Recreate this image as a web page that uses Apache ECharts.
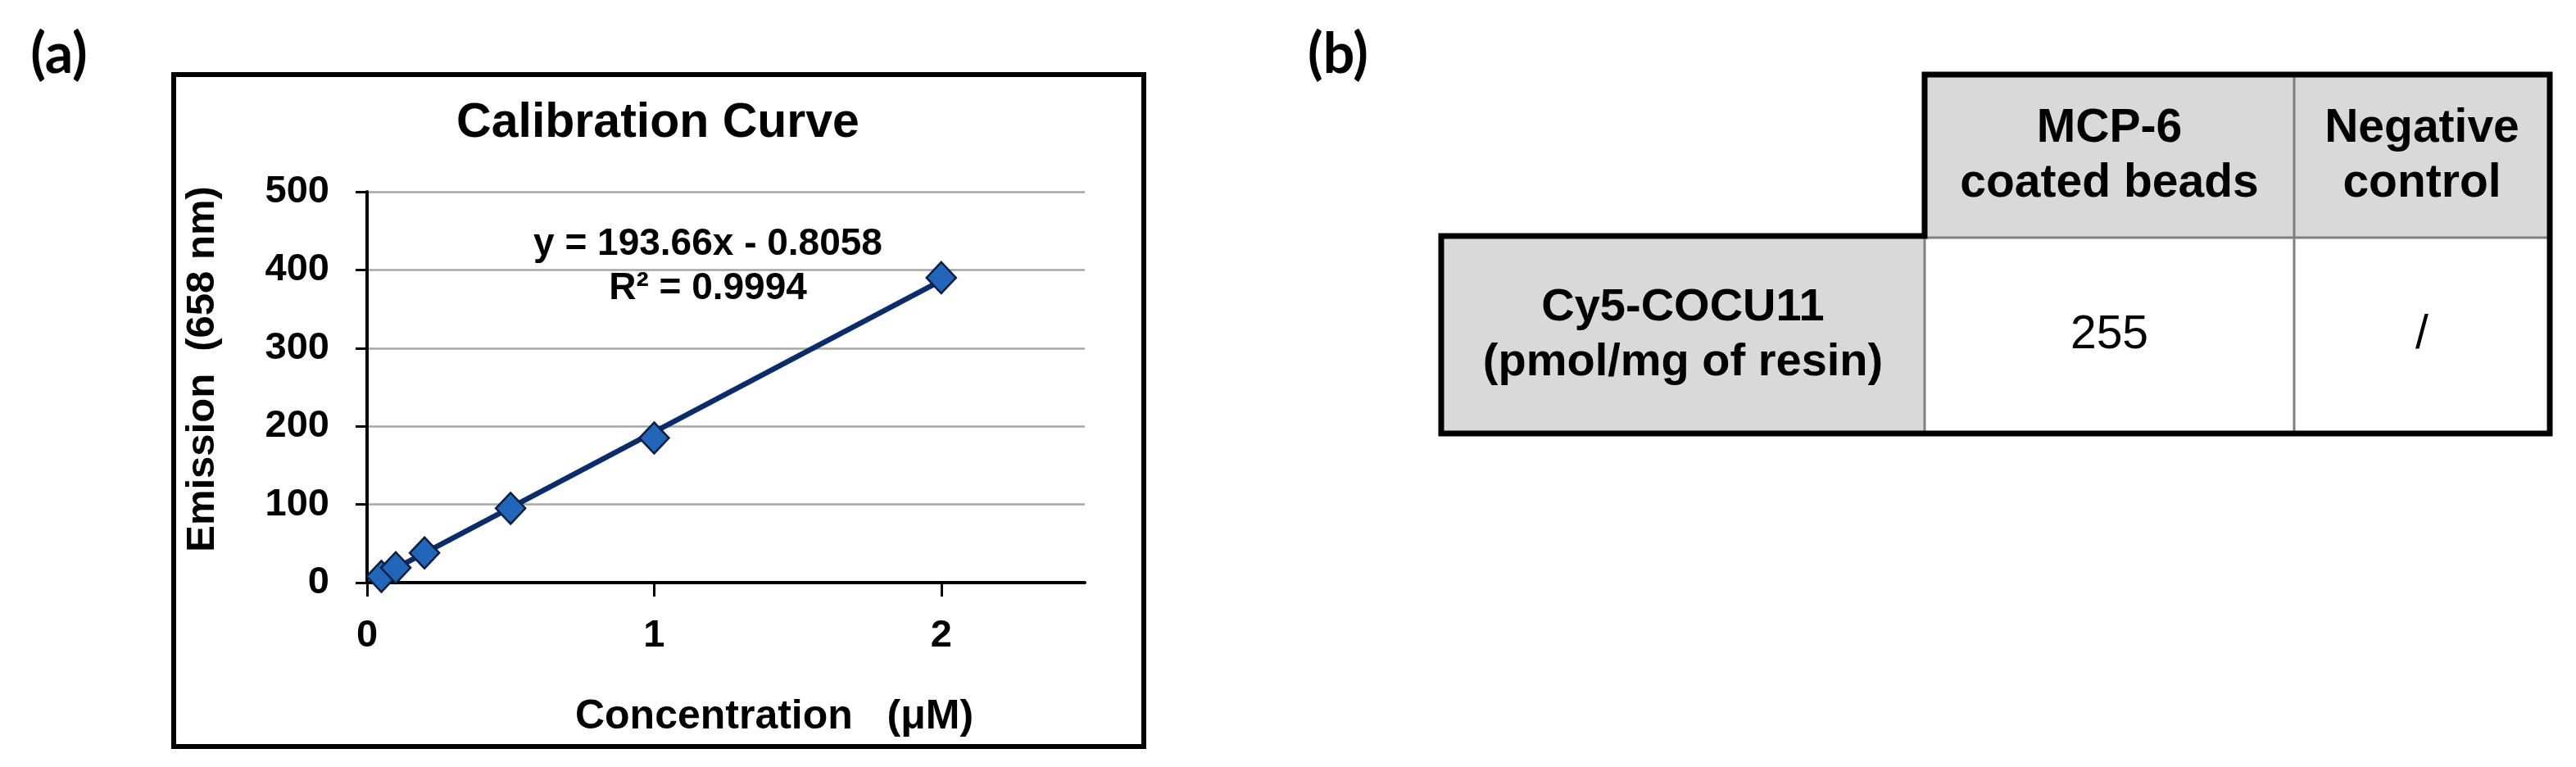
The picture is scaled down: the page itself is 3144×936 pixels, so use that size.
<!DOCTYPE html>
<html>
<head>
<meta charset="utf-8">
<script src="https://cdn.jsdelivr.net/npm/echarts@6/dist/echarts.min.js"></script>
<style>
  html, body { margin: 0; padding: 0; background: #fff; }
  #main { width: 3144px; height: 936px; }
</style>
</head>
<body>
<div id="main"></div>
<script>
// data
var concentration = [0.05, 0.1, 0.2, 0.5, 1, 2];
var emission = [8, 19, 38, 95, 185, 390];
var trendX = [0.05, 2];
var trendY = [8.9, 386.5];
var xTicks = [0, 1, 2];
var yTicks = [0, 100, 200, 300, 400, 500];
var equation = ['y = 193.66x - 0.8058', 'R² = 0.9994'];

// table (b)
var colHeaders = ['MCP-6\ncoated beads', 'Negative\ncontrol'];
var rowHeaders = ['Cy5-COCU11\n(pmol/mg of resin)'];
var cellValues = ['255', '/'];

var FONT = '"Liberation Sans", Arial, sans-serif';
var myChart = echarts.init(document.getElementById('main'));

// table geometry
var colX = [1759, 2349, 2800, 3112];
var rowY = [91, 290, 529];
var headFill = '#d9d9d9';
var tableEls = [];
tableEls.push({ type: 'rect', shape: { x: colX[1], y: rowY[0], width: colX[3] - colX[1], height: rowY[1] - rowY[0] }, style: { fill: headFill } });
tableEls.push({ type: 'rect', shape: { x: colX[0], y: rowY[1], width: colX[1] - colX[0], height: rowY[2] - rowY[1] }, style: { fill: headFill } });
// thin inner lines
tableEls.push({ type: 'line', shape: { x1: colX[1], y1: rowY[0], x2: colX[1], y2: rowY[2] }, style: { stroke: '#808080', lineWidth: 3 } });
tableEls.push({ type: 'line', shape: { x1: colX[2], y1: rowY[0], x2: colX[2], y2: rowY[2] }, style: { stroke: '#808080', lineWidth: 3 } });
tableEls.push({ type: 'line', shape: { x1: colX[1], y1: rowY[1], x2: colX[3], y2: rowY[1] }, style: { stroke: '#808080', lineWidth: 3 } });
// thick outer outline
tableEls.push({
  type: 'polygon',
  shape: { points: [[colX[1], rowY[0]], [colX[3], rowY[0]], [colX[3], rowY[2]], [colX[0], rowY[2]], [colX[0], rowY[1] - 2], [colX[1], rowY[1] - 2]] },
  style: { fill: null, stroke: '#000', lineWidth: 7 }
});
colHeaders.forEach(function (t, i) {
  tableEls.push({ type: 'text', z: 10, style: { text: t, x: (colX[i + 1] + colX[i + 2]) / 2, y: (rowY[0] + rowY[1]) / 2, align: 'center', verticalAlign: 'middle', font: 'bold 57px ' + FONT, lineHeight: 67, fill: '#000' } });
});
rowHeaders.forEach(function (t) {
  tableEls.push({ type: 'text', z: 10, style: { text: t, x: (colX[0] + colX[1]) / 2, y: (rowY[1] + rowY[2]) / 2, align: 'center', verticalAlign: 'middle', font: 'bold 56px ' + FONT, lineHeight: 67, fill: '#000' } });
});
cellValues.forEach(function (t, i) {
  tableEls.push({ type: 'text', z: 10, style: { text: t, x: (colX[i + 1] + colX[i + 2]) / 2, y: (rowY[1] + rowY[2]) / 2, align: 'center', verticalAlign: 'middle', font: '57px ' + FONT, fill: '#000' } });
});

var option = {
  animation: false,
  backgroundColor: '#fff',
  title: [
    {
      text: 'Calibration Curve',
      left: 803, top: 119, textAlign: 'center', padding: 0,
      textStyle: { fontFamily: FONT, fontWeight: 'bold', fontSize: 59, lineHeight: 64, color: '#000' }
    },
    {
      text: equation.join('\n'),
      left: 864, top: 271, textAlign: 'center', padding: 0,
      textStyle: { fontFamily: FONT, fontWeight: 'bold', fontSize: 46, lineHeight: 54, color: '#000' }
    }
  ],
  grid: { left: 448, right: 1820, top: 234, bottom: 225 },
  xAxis: {
    type: 'value',
    min: 0, max: 2.5, interval: 1,
    name: 'Concentration   (μM)',
    nameLocation: 'middle',
    nameGap: 139,
    nameTextStyle: { fontFamily: FONT, fontWeight: 'bold', fontSize: 50, color: '#000', padding: [0, 0, 0, 118] },
    axisLine: { show: true, onZero: true, lineStyle: { color: '#000', width: 4 } },
    axisTick: { show: true, length: 17, customValues: xTicks, lineStyle: { color: '#000', width: 3 } },
    axisLabel: { customValues: xTicks, margin: 42, fontFamily: FONT, fontWeight: 'bold', fontSize: 47, color: '#000' },
    splitLine: { show: false }
  },
  yAxis: {
    type: 'value',
    min: yTicks[0], max: yTicks[yTicks.length - 1], interval: 100,
    name: 'Emission  (658 nm)',
    nameLocation: 'middle',
    nameGap: 176,
    nameTextStyle: { fontFamily: FONT, fontWeight: 'bold', fontSize: 49, color: '#000', padding: [0, 0, 0, 44] },
    axisLine: { show: true, lineStyle: { color: '#000', width: 4 } },
    axisTick: { show: true, length: 14, lineStyle: { color: '#000', width: 3 } },
    axisLabel: { margin: 46, fontFamily: FONT, fontWeight: 'bold', fontSize: 47, color: '#000' },
    splitLine: { show: true, lineStyle: { color: '#a6a6a6', width: 2.5 } }
  },
  graphic: [
    { type: 'rect', shape: { x: 212, y: 91, width: 1184, height: 820 }, style: { fill: null, stroke: '#000', lineWidth: 6 } },
    { type: 'text', style: { text: '(a)', x: 72, y: 67, align: 'center', verticalAlign: 'middle', font: 'bold 68px Lato, "Open Sans", sans-serif', fill: '#000' } },
    { type: 'text', style: { text: '(b)', x: 1633, y: 67, align: 'center', verticalAlign: 'middle', font: 'bold 68px Lato, "Open Sans", sans-serif', fill: '#000' } }
  ].concat(tableEls),
  series: [
    {
      name: 'trend',
      type: 'line',
      data: trendX.map(function (x, i) { return [x, trendY[i]]; }),
      symbol: 'none',
      lineStyle: { color: '#0b2c6b', width: 6.5 },
      z: 2
    },
    {
      name: 'Emission',
      type: 'scatter',
      data: concentration.map(function (x, i) { return [x, emission[i]]; }),
      symbol: 'diamond',
      symbolSize: [36, 38],
      itemStyle: { color: '#2166b8', borderColor: '#0b1f3f', borderWidth: 2.5, opacity: 1 },
      z: 3
    }
  ]
};

myChart.setOption(option);
</script>
</body>
</html>
